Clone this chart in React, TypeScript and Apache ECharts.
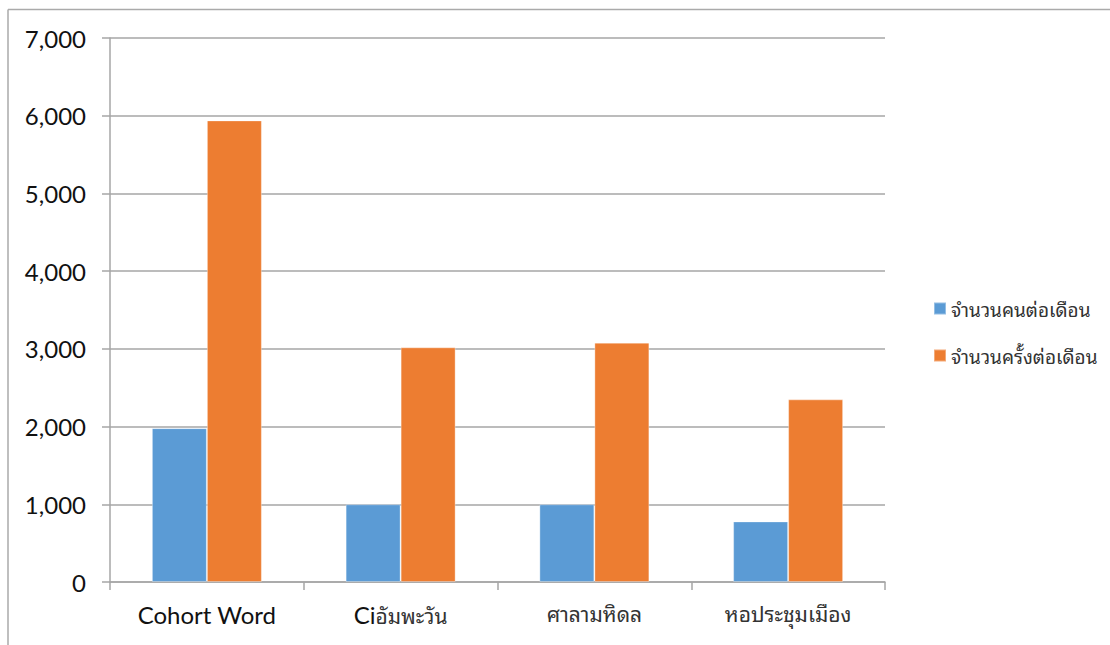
import React, { useEffect, useRef } from "react";
import * as echarts from "echarts";

const categories = ["Cohort Word", "Ciอัมพะวัน", "ศาลามหิดล", "หอประชุมเมือง"];
const peoplePerMonth = [1980, 1000, 1000, 780];
const visitsPerMonth = [5940, 3020, 3080, 2350];
const seriesNames = ["จำนวนคนต่อเดือน", "จำนวนครั้งต่อเดือน"];
const yTicks = { min: 0, max: 7000, interval: 1000 };

const LATIN = "Lato, 'Open Sans', sans-serif";
const THAI = "'Noto Sans Thai Looped', 'Noto Sans Thai', 'Noto Sans', Tahoma, sans-serif";

export default function App() {
  const ref = useRef<HTMLDivElement>(null);
  useEffect(() => {
    document.body.style.margin = "0";
    const chart = echarts.init(ref.current!, null, { renderer: "svg" });
    const grid = "#A6A6A6";
    chart.setOption({
      animation: false,
      backgroundColor: "#ffffff",
      grid: { left: 110, right: 225, top: 38, bottom: 63, containLabel: false },
      legend: {
        orient: "vertical",
        left: 928,
        top: 294,
        itemWidth: 12,
        itemHeight: 12,
        itemGap: 28,
        icon: "rect",
        data: seriesNames,
        textStyle: { fontSize: 19, color: "#333", fontFamily: THAI },
      },
      xAxis: {
        type: "category",
        data: categories,
        axisLine: { show: true, lineStyle: { color: grid, width: 1.5 } },
        axisTick: { show: true, length: 8, lineStyle: { color: grid, width: 1.5 } },
        axisLabel: {
          margin: 20,
          formatter: (v: string) => {
            const m = v.match(/^([A-Za-z ]*)(.*)$/);
            const lat = m ? m[1] : "";
            const th = m ? m[2] : v;
            return (lat ? `{l|${lat}}` : "") + (th ? `{t|${th}}` : "");
          },
          rich: {
            l: { fontSize: 24, fontFamily: LATIN, color: "#111" },
            t: { fontSize: 21, fontFamily: THAI, color: "#333" },
          },
        },
      },
      yAxis: {
        type: "value",
        min: yTicks.min,
        max: yTicks.max,
        interval: yTicks.interval,
        axisLine: { show: true, lineStyle: { color: grid, width: 1.5 } },
        axisTick: { show: true, length: 8, lineStyle: { color: grid, width: 1.5 } },
        splitLine: { show: true, lineStyle: { color: grid, width: 1.5 } },
        axisLabel: {
          margin: 24,
          fontSize: 24,
          fontFamily: LATIN,
          color: "#111",
          formatter: (v: number) => v.toLocaleString("en-US"),
        },
      },
      series: [
        {
          name: seriesNames[0],
          type: "bar",
          data: peoplePerMonth,
          barWidth: 55,
          barGap: "0%",
          itemStyle: { color: "#5B9BD5", borderColor: "rgba(255,255,255,0.35)", borderWidth: 1 },
        },
        {
          name: seriesNames[1],
          type: "bar",
          data: visitsPerMonth,
          barWidth: 55,
          barGap: "0%",
          itemStyle: { color: "#ED7D31", borderColor: "rgba(255,255,255,0.35)", borderWidth: 1 },
        },
      ],
      graphic: [
        {
          type: "line",
          shape: { x1: 8, y1: 9.5, x2: 1110, y2: 9.5 },
          style: { stroke: "#AAAAAA", lineWidth: 1.5 },
        },
        {
          type: "line",
          shape: { x1: 8, y1: 9.5, x2: 8, y2: 645 },
          style: { stroke: "#AAAAAA", lineWidth: 1.5 },
        },
      ],
    });
    return () => chart.dispose();
  }, []);
  return (
    <div
      ref={ref}
      style={{ position: "absolute", left: 0, top: 0, width: 1110, height: 645 }}
    />
  );
}
